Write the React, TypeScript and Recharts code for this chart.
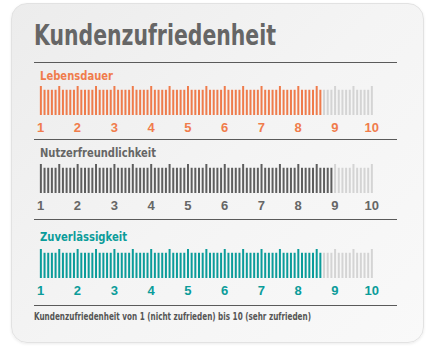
import { BarChart, Bar, XAxis, YAxis, Cell } from "recharts";

const categories = ["Lebensdauer", "Nutzerfreundlichkeit", "Zuverlässigkeit"];
const scores = [8.6, 8.9, 8.6];
const scaleLabels = [1, 2, 3, 4, 5, 6, 7, 8, 9, 10];
const rowColors = ["#ef7b4b", "#5e5e5e", "#0b9c9a"];
const labelColors = ["#f07c4c", "#666666", "#0b9c9a"];
const restColor = "#d4d4d4";

// scale marks: one per tenth, taller on every half
const marks = Array.from({ length: 91 }, (_, i) => {
  const x = (i + 10) / 10;
  return { x, h: i % 5 === 0 ? 1 : 0.87 };
});

const barTops = [86, 164, 249];
const labelBaselines = [80, 157, 241];
const lineYs = [62, 139, 219, 305];
const labelWidths = [73, 116, 87];

const condensed = "'Liberation Sans Narrow', 'DejaVu Sans Condensed', 'Liberation Sans', sans-serif";

function ScaleRow({ idx }: { idx: number }) {
  const score = scores[idx];
  return (
    <div style={{ position: "absolute", left: 30, top: barTops[idx] }}>
      <BarChart
        width={352}
        height={51}
        data={marks}
        margin={{ top: 0, right: 0, bottom: 0, left: 0 }}
        style={{ fontFamily: "'Liberation Sans', Arial, sans-serif" }}
      >
        <XAxis
          type="number"
          dataKey="x"
          domain={[1, 10]}
          ticks={scaleLabels}
          interval={0}
          padding={{ left: 10.7, right: 10.3 }}
          tickLine={false}
          axisLine={false}
          height={22}
          tick={{ fill: labelColors[idx], fontSize: 13, fontWeight: 700 }}
        />
        <YAxis hide domain={[0, 1]} />
        <Bar dataKey="h" barSize={2} isAnimationActive={false}>
          {marks.map((m, i) => (
            <Cell key={i} fill={m.x <= score + 0.001 ? rowColors[idx] : restColor} />
          ))}
        </Bar>
      </BarChart>
    </div>
  );
}

export default function App() {
  return (
    <div style={{ position: "absolute", left: 0, top: 0, width: 431, height: 349, background: "#fff" }}>
      <div
        style={{
          position: "absolute",
          left: 11,
          top: 3,
          width: 411,
          height: 338,
          borderRadius: 16,
          background: "linear-gradient(135deg, #ececec 0%, #f4f4f4 50%, #f9f9f9 100%)",
          border: "1px solid #e2e2e2",
          boxShadow: "0 1px 3px rgba(0,0,0,0.08)",
        }}
      />
      <svg width={431} height={349} style={{ position: "absolute", left: 0, top: 0 }}>
        <text
          x={34}
          y={45}
          fontSize={28}
          fontWeight={700}
          fill="#666666"
          fontFamily={condensed}
          textLength={242}
          lengthAdjust="spacingAndGlyphs"
        >
          Kundenzufriedenheit
        </text>
        {lineYs.map((y, i) => (
          <line key={i} x1={34} x2={397} y1={y + 0.5} y2={y + 0.5} stroke="#5a5a5a" strokeWidth={1} />
        ))}
        {categories.map((c, i) => (
          <text
            key={c}
            x={40}
            y={labelBaselines[i]}
            fontSize={12}
            fontWeight={700}
            fill={labelColors[i]}
            fontFamily={condensed}
            textLength={labelWidths[i]}
            lengthAdjust="spacingAndGlyphs"
          >
            {c}
          </text>
        ))}
        <text
          x={34}
          y={320}
          fontSize={10}
          fontWeight={700}
          fill="#555555"
          fontFamily={condensed}
          textLength={277}
          lengthAdjust="spacingAndGlyphs"
        >
          Kundenzufriedenheit von 1 (nicht zufrieden) bis 10 (sehr zufrieden)
        </text>
      </svg>
      {categories.map((c, i) => (
        <ScaleRow key={c} idx={i} />
      ))}
    </div>
  );
}
